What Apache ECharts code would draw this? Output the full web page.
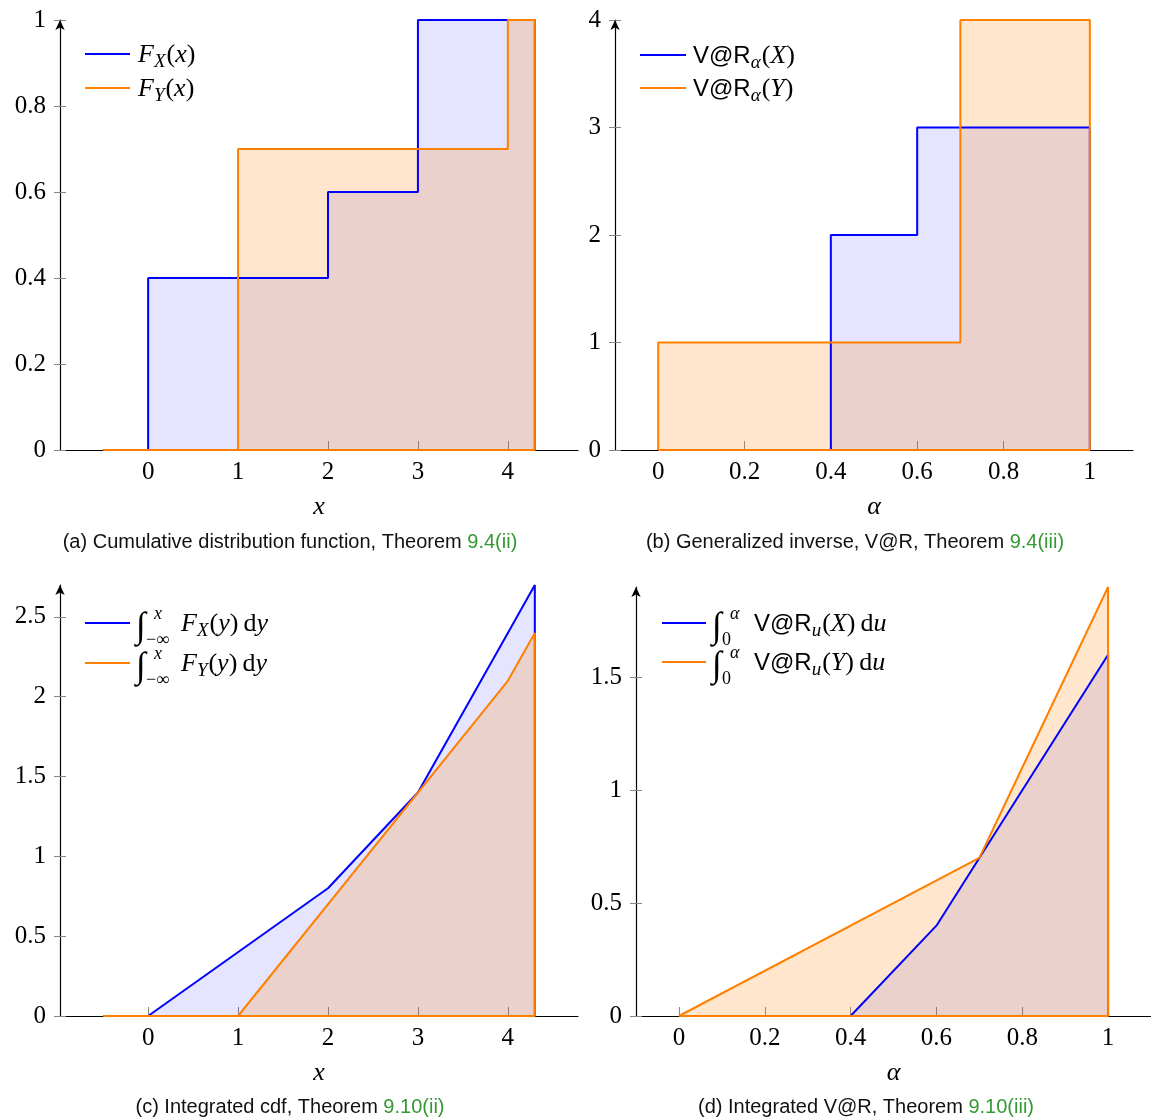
<!DOCTYPE html>
<html>
<head>
<meta charset="utf-8">
<script src="https://cdn.jsdelivr.net/npm/echarts@6/dist/echarts.min.js"></script>
<style>
  html, body { margin: 0; padding: 0; background: #fff; }
  #main { width: 1151px; height: 1120px; }
</style>
</head>
<body>
<div id="main"></div>
<script>
// ---- data ----
// (a) cdf, right-continuous steps
var cdfXx = [-0.5, 0, 2, 3, 4.3];
var cdfXy = [0, 0.4, 0.6, 1, 1];
var cdfYx = [-0.5, 1, 4, 4.3];
var cdfYy = [0, 0.7, 1, 1];
// (b) V@R, generalized inverse
var varXa = [0, 0.4, 0.6, 1];
var varXv = [0, 2, 3, 3];
var varYa = [0, 0, 0.7, 1];
var varYv = [0, 1, 4, 4];
// (c) integrated cdf
var intXx = [-0.5, 0, 2, 3, 4, 4.3];
var intXy = [0, 0, 0.8, 1.4, 2.4, 2.7];
var intYx = [-0.5, 1, 4, 4.3];
var intYy = [0, 0, 2.1, 2.4];
// (d) integrated V@R
var ivarXa = [0, 0.4, 0.6, 1];
var ivarXv = [0, 0, 0.4, 1.6];
var ivarYa = [0, 0.7, 1];
var ivarYv = [0, 0.7, 1.9];

// tick labels
var xTicksA = [0, 1, 2, 3, 4];
var yTicksA = [0, 0.2, 0.4, 0.6, 0.8, 1];
var xTicksB = [0, 0.2, 0.4, 0.6, 0.8, 1];
var yTicksB = [0, 1, 2, 3, 4];
var yTicksC = [0, 0.5, 1, 1.5, 2, 2.5];
var yTicksD = [0, 0.5, 1, 1.5];

var BLUE = '#0000ff';
var ORANGE = '#ff8000';
var GREEN = '#339933';
var SERIF = 'Liberation Serif';
var SANS = 'Liberation Sans';

var myChart = echarts.init(document.getElementById('main'));

// closed path: points, drop to 0 at the last x, back along 0 to the first x
function closed(xs, ys) {
    var d = [];
    for (var i = 0; i < xs.length; i++) d.push([xs[i], ys[i]]);
    d.push([xs[xs.length - 1], 0]);
    d.push([xs[0], 0]);
    return d;
}

function xAx(grid, min, max, ticks, name) {
    return {
        type: 'value', gridIndex: grid, min: min, max: max,
        name: name, nameLocation: 'middle', nameGap: 44,
        nameTextStyle: { fontFamily: SERIF, fontStyle: 'italic', fontSize: 26, color: '#000' },
        axisLine: { onZero: false, lineStyle: { color: '#000', width: 1.2 } },
        axisTick: { inside: true, length: 9, customValues: ticks, lineStyle: { color: '#888', width: 1 } },
        axisLabel: { customValues: ticks, margin: 10, fontFamily: SERIF, fontSize: 25, color: '#000' },
        splitLine: { show: false }
    };
}

function yAx(grid, min, max, ticks, inner) {
    return {
        type: 'value', gridIndex: grid, min: min, max: max, position: 'left',
        axisLine: inner ? { show: false, onZero: false } :
            { onZero: false, symbol: ['none', 'arrow'], symbolSize: [7, 10],
              lineStyle: { color: '#000', width: 1.2 } },
        axisTick: { inside: inner, length: 6, customValues: ticks, lineStyle: { color: '#888', width: 1 } },
        axisLabel: inner ? { show: false } :
            { customValues: ticks, margin: 14, fontFamily: SERIF, fontSize: 25, color: '#000' },
        splitLine: { show: false }
    };
}

function ser(xi, yi, data, color, alpha, step) {
    return {
        type: 'line', xAxisIndex: xi, yAxisIndex: yi, data: data,
        step: step ? 'end' : false, symbol: 'none', showSymbol: false,
        lineStyle: { color: color, width: 2 }, itemStyle: { color: color },
        areaStyle: { color: color, opacity: alpha },
        animation: false, silent: true
    };
}

var mathRich = {
    i: { fontFamily: SERIF, fontStyle: 'italic', fontSize: 26, fill: '#000' },
    r: { fontFamily: SERIF, fontSize: 26, fill: '#000' },
    sub: { fontFamily: SERIF, fontStyle: 'italic', fontSize: 19, fill: '#000', padding: [13, 1, 0, 0] },
    sf: { fontFamily: SANS, fontSize: 24, fill: '#000' }
};

function legendRow(x1, x2, y, color, tx, txt, extra) {
    var kids = [
        { type: 'line', shape: { x1: x1, y1: y, x2: x2, y2: y }, style: { stroke: color, lineWidth: 2 } },
        { type: 'text', x: tx, y: y + 1, style: { text: txt, rich: mathRich, verticalAlign: 'middle', align: 'left' } }
    ];
    return { type: 'group', children: kids.concat(extra || []) };
}

// integral sign with limits
function integral(x, y, upper, lower) {
    return [
        { type: 'text', x: x, y: y + 2, style: { text: '\u222B', font: 'italic 36px ' + SERIF, fill: '#000', verticalAlign: 'middle', align: 'left' } },
        { type: 'text', x: x + 18, y: y - 12, style: { text: upper, font: 'italic 18px ' + SERIF, fill: '#000', verticalAlign: 'middle', align: 'left' } },
        { type: 'text', x: x + 10, y: y + 14, style: { text: lower, font: '18px ' + SERIF, fill: '#000', verticalAlign: 'middle', align: 'left' } }
    ];
}

function caption(cx, cy, txt, ref) {
    return {
        type: 'text', x: cx, y: cy,
        style: {
            text: '{t|' + txt + '}{g|' + ref + '}',
            rich: { t: { fontFamily: SANS, fontSize: 20, fill: '#111' }, g: { fontFamily: SANS, fontSize: 20, fill: GREEN } },
            align: 'center', verticalAlign: 'middle'
        }
    };
}

option = {
    backgroundColor: '#fff',
    grid: [
        { left: 60, top: 20, width: 518, height: 430 },
        { left: 615, top: 20, width: 518, height: 430 },
        { left: 60, top: 585, width: 518, height: 431 },
        { left: 636, top: 587, width: 518, height: 429 }
    ],
    xAxis: [
        xAx(0, -0.98, 4.78, xTicksA, 'x'),
        xAx(1, -0.1, 1.1, xTicksB, '\u03B1'),
        xAx(2, -0.98, 4.78, xTicksA, 'x'),
        xAx(3, -0.1, 1.1, xTicksB, '\u03B1')
    ],
    yAxis: [
        yAx(0, 0, 1, yTicksA, false),
        yAx(1, 0, 4, yTicksB, false),
        yAx(2, 0, 2.7, yTicksC, false),
        yAx(3, 0, 1.9, yTicksD, false),
        yAx(0, 0, 1, yTicksA, true),
        yAx(1, 0, 4, yTicksB, true),
        yAx(2, 0, 2.7, yTicksC, true),
        yAx(3, 0, 1.9, yTicksD, true)
    ],
    series: [
        ser(0, 0, closed(cdfXx, cdfXy), BLUE, 0.1, true),
        ser(0, 0, closed(cdfYx, cdfYy), ORANGE, 0.2, true),
        ser(1, 1, closed(varXa, varXv), BLUE, 0.1, true),
        ser(1, 1, closed(varYa, varYv), ORANGE, 0.2, true),
        ser(2, 2, closed(intXx, intXy), BLUE, 0.1, false),
        ser(2, 2, closed(intYx, intYy), ORANGE, 0.2, false),
        ser(3, 3, closed(ivarXa, ivarXv), BLUE, 0.1, false),
        ser(3, 3, closed(ivarYa, ivarYv), ORANGE, 0.2, false)
    ],
    graphic: [
        legendRow(85, 130, 54, BLUE, 138, '{i|F}{sub|X}{r|(}{i|x}{r|)}'),
        legendRow(85, 130, 88, ORANGE, 138, '{i|F}{sub|Y}{r|(}{i|x}{r|)}'),
        legendRow(640, 686, 55, BLUE, 693, '{sf|V@R}{sub|\u03B1}{r|(}{i|X}{r|)}'),
        legendRow(640, 686, 88, ORANGE, 693, '{sf|V@R}{sub|\u03B1}{r|(}{i|Y}{r|)}'),
        legendRow(85, 130, 623, BLUE, 181, '{i|F}{sub|X}{r|(}{i|y}{r|)\u2009d}{i|y}', integral(136, 626, 'x', '\u2212\u221E')),
        legendRow(85, 130, 663, ORANGE, 181, '{i|F}{sub|Y}{r|(}{i|y}{r|)\u2009d}{i|y}', integral(136, 666, 'x', '\u2212\u221E')),
        legendRow(662, 706, 623, BLUE, 754, '{sf|V@R}{sub|u}{r|(}{i|X}{r|)\u2009d}{i|u}', integral(712, 626, '\u03B1', '0')),
        legendRow(662, 706, 662, ORANGE, 754, '{sf|V@R}{sub|u}{r|(}{i|Y}{r|)\u2009d}{i|u}', integral(712, 665, '\u03B1', '0')),
        caption(290, 542, '(a) Cumulative distribution function, Theorem ', '9.4(ii)'),
        caption(855, 542, '(b) Generalized inverse, V@R, Theorem ', '9.4(iii)'),
        caption(290, 1107, '(c) Integrated cdf, Theorem ', '9.10(ii)'),
        caption(866, 1107, '(d) Integrated V@R, Theorem ', '9.10(iii)')
    ]
};

myChart.setOption(option);
</script>
</body>
</html>
